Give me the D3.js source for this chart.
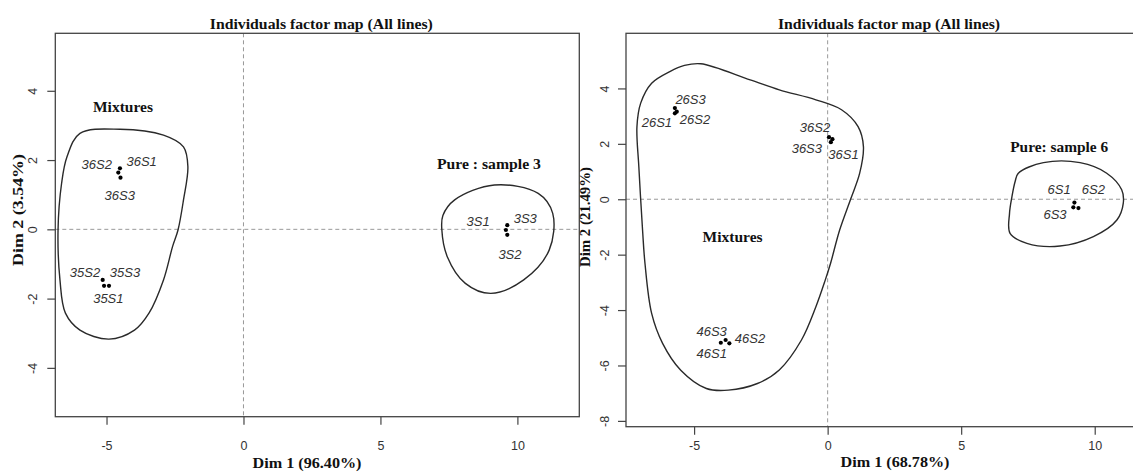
<!DOCTYPE html>
<html>
<head>
<meta charset="utf-8">
<script src="https://cdn.jsdelivr.net/npm/d3@7"></script>
<style>
  html, body { margin: 0; padding: 0; background: #fff; }
  svg { display: block; }
</style>
</head>
<body>
<script>
// ---------------- DATA ----------------
const chartTitle = "Individuals factor map (All lines)";

// Left panel
const leftXTitle = "Dim 1 (96.40%)";
const leftYTitle = "Dim 2 (3.54%)";
const leftXTicks = [-5, 0, 5, 10];
const leftYTicks = [-4, -2, 0, 2, 4];
const leftNames = ["36S1", "36S2", "36S3", "35S2", "35S1", "35S3", "3S3", "3S1", "3S2"];
const leftDim1 = [-4.51, -4.57, -4.49, -5.14, -5.09, -4.91, 9.63, 9.58, 9.63];
const leftDim2 = [1.76, 1.64, 1.49, -1.46, -1.63, -1.63, 0.12, -0.02, -0.16];
const leftGroups = ["Mixtures", "Pure : sample 3"];
const leftGroupX = [-4.40, 8.96];
const leftGroupY = [3.52, 1.88];
const leftMixHullX = [-6.44, -5.97, -4.51, -2.92, -2.19, -2.03, -2.19, -2.39, -2.59, -2.92, -3.45, -3.98, -4.91, -5.97, -6.50, -6.70, -6.77, -6.64];
const leftMixHullY = [2.10, 2.77, 2.89, 2.72, 2.38, 1.81, 0.85, -0.02, -0.50, -1.46, -2.42, -2.91, -3.17, -2.91, -2.42, -1.46, -0.02, 1.33];
const leftPureHullX = [7.71, 9.16, 10.76, 11.29, 11.16, 10.23, 9.03, 8.10, 7.44, 7.24, 7.28];
const leftPureHullY = [0.85, 1.28, 1.04, 0.46, -0.60, -1.46, -1.85, -1.56, -0.79, 0.00, 0.40];

// Right panel
const rightXTitle = "Dim 1 (68.78%)";
const rightYTitle = "Dim 2 (21.49%)";
const rightXTicks = [-5, 0, 5, 10];
const rightYTicks = [-8, -6, -4, -2, 0, 2, 4];
const rightNames = ["26S3", "26S2", "26S1", "36S2", "36S1", "36S3", "6S1", "6S3", "6S2", "46S1", "46S3", "46S2"];
const rightDim1 = [-5.72, -5.65, -5.72, 0.05, 0.18, 0.12, 9.24, 9.20, 9.39, -4.00, -3.82, -3.68];
const rightDim2 = [3.29, 3.16, 3.10, 2.24, 2.17, 2.06, -0.12, -0.29, -0.32, -5.18, -5.08, -5.20];
const rightGroups = ["Mixtures", "Pure: sample 6"];
const rightGroupX = [-3.56, 8.67];
const rightGroupY = [-1.36, 1.90];
const rightMixHullX = [-4.75, -2.90, -1.81, -0.44, 0.52, 1.14, 1.34, 1.20, 0.86, 0.45, 0.11, -0.09, -0.44, -0.98, -1.81, -2.63, -3.72, -4.54, -5.50, -6.18, -6.59, -6.84, -6.93, -7.07, -7.14, -7.00, -6.59, -5.91, -5.36];
const rightMixHullY = [4.89, 4.31, 3.95, 3.59, 3.23, 2.62, 1.90, 0.94, 0.00, -1.11, -2.31, -2.92, -3.88, -5.08, -6.16, -6.65, -6.89, -6.83, -6.17, -5.20, -4.12, -2.31, -1.11, 1.18, 2.62, 3.47, 4.19, 4.61, 4.83];
const rightPureHullX = [7.14, 8.08, 9.45, 10.45, 11.01, 11.07, 10.83, 9.95, 8.70, 7.46, 6.83, 6.81, 6.90, 7.02];
const rightPureHullY = [0.94, 1.32, 1.32, 0.94, 0.34, -0.14, -0.75, -1.35, -1.69, -1.59, -1.23, -0.51, 0.09, 0.64];

// ---------------- LAYOUT / STYLE (not data) ----------------
const labelOffsets = {
  left: {
    "36S1": [21.7, -6.6], "36S2": [-21.6, -8.3], "36S3": [-0.7, 17.3],
    "35S2": [-17.7, -7.7], "35S1": [4.3, 12.6], "35S3": [16, -13.4],
    "3S3": [18, -6.7], "3S1": [-27.7, -8.6], "3S2": [2.7, 20]
  },
  right: {
    "26S3": [15.7, -9], "26S2": [18.3, 7.6], "26S1": [-18, 9.4],
    "36S2": [-14, -10], "36S1": [11, 15.7], "36S3": [-24, 6],
    "6S1": [-15.3, -12.7], "6S3": [-18.3, 7], "6S2": [15, -19],
    "46S1": [-9, 10.6], "46S3": [-14, -8.3], "46S2": [20.7, -5]
  }
};

const W = 1133, H = 472;
const svg = d3.select("body").append("svg").attr("width", W).attr("height", H);

const serif = "'Liberation Serif', 'DejaVu Serif', serif";
const sans = "'Liberation Sans', Arial, sans-serif";
const fmt = d => String(d);

function drawPanel(cfg) {
  const x = d3.scaleLinear().domain(cfg.xDomain).range([cfg.x0, cfg.x1]);
  const y = d3.scaleLinear().domain(cfg.yDomain).range([cfg.y1, cfg.y0]);
  const g = svg.append("g");

  const clipId = "clip" + cfg.id;
  svg.append("defs").append("clipPath").attr("id", clipId)
    .append("rect").attr("x", cfg.x0).attr("y", cfg.y0)
    .attr("width", cfg.x1 - cfg.x0).attr("height", cfg.y1 - cfg.y0);

  const inner = g.append("g").attr("clip-path", `url(#${clipId})`);

  // dashed reference lines
  inner.append("line")
    .attr("x1", x(0)).attr("x2", x(0)).attr("y1", cfg.y0).attr("y2", cfg.y1)
    .attr("stroke", "#999").attr("stroke-width", 1).attr("stroke-dasharray", "4,3");
  inner.append("line")
    .attr("x1", cfg.x0).attr("x2", cfg.x1).attr("y1", y(0)).attr("y2", y(0))
    .attr("stroke", "#999").attr("stroke-width", 1).attr("stroke-dasharray", "4,3");

  // hulls
  const line = d3.line().x(d => x(d[0])).y(d => y(d[1])).curve(d3.curveCatmullRomClosed.alpha(0.5));
  cfg.hulls.forEach(h => {
    const pts = h.xs.map((v, i) => [v, h.ys[i]]);
    inner.append("path").attr("d", line(pts))
      .attr("fill", "none").attr("stroke", "#2a2a2a").attr("stroke-width", 1.4);
  });

  // points
  const pts = cfg.names.map((n, i) => ({ name: n, d1: cfg.dim1[i], d2: cfg.dim2[i] }));
  inner.selectAll("circle.pt").data(pts).enter().append("circle")
    .attr("class", "pt")
    .attr("cx", d => x(d.d1)).attr("cy", d => y(d.d2)).attr("r", 2.1)
    .attr("fill", "#000");

  inner.selectAll("text.lbl").data(pts).enter().append("text")
    .attr("class", "lbl")
    .attr("x", d => x(d.d1) + cfg.offsets[d.name][0])
    .attr("y", d => y(d.d2) + cfg.offsets[d.name][1])
    .attr("text-anchor", "middle").attr("dominant-baseline", "central")
    .attr("font-family", sans).attr("font-style", "italic")
    .attr("font-size", 13).attr("fill", "#333")
    .text(d => d.name);

  // group annotations
  cfg.groups.forEach((t, i) => {
    inner.append("text")
      .attr("x", x(cfg.groupX[i])).attr("y", y(cfg.groupY[i]))
      .attr("text-anchor", "middle").attr("dominant-baseline", "central")
      .attr("font-family", serif).attr("font-weight", "bold").attr("font-size", 14.5)
      .attr("fill", "#111")
      .attr("textLength", cfg.groupW[i]).attr("lengthAdjust", "spacingAndGlyphs")
      .text(t);
  });

  // box
  g.append("rect").attr("x", cfg.x0).attr("y", cfg.y0)
    .attr("width", cfg.x1 - cfg.x0).attr("height", cfg.y1 - cfg.y0)
    .attr("fill", "none").attr("stroke", "#444").attr("stroke-width", 1.3);

  // axes
  const xAxis = d3.axisBottom(x).tickValues(cfg.xTicks).tickSize(8).tickPadding(cfg.xPad).tickFormat(fmt);
  const gx = g.append("g").attr("transform", `translate(0,${cfg.y1})`).call(xAxis);
  gx.select(".domain").remove();
  gx.selectAll("line").attr("stroke", "#444").attr("stroke-width", 1.2);
  gx.selectAll("text").attr("font-family", sans).attr("font-size", 12.5).attr("fill", "#333");

  const yAxis = d3.axisLeft(y).tickValues(cfg.yTicks).tickSize(8).tickPadding(0).tickFormat(fmt);
  const gy = g.append("g").attr("transform", `translate(${cfg.x0},0)`).call(yAxis);
  gy.select(".domain").remove();
  gy.selectAll("line").attr("stroke", "#444").attr("stroke-width", 1.2);
  gy.selectAll("text")
    .attr("x", null).attr("dy", null)
    .attr("text-anchor", "middle")
    .attr("transform", `translate(${-cfg.yLabDist},0) rotate(-90)`)
    .attr("dominant-baseline", "central")
    .attr("font-family", sans).attr("font-size", 12.5).attr("fill", "#333");

  // titles
  svg.append("text")
    .attr("x", (cfg.x0 + cfg.x1) / 2 + cfg.titleShift).attr("y", 23.5)
    .attr("text-anchor", "middle").attr("dominant-baseline", "central")
    .attr("font-family", serif).attr("font-weight", "bold").attr("font-size", 15)
    .attr("fill", "#111")
    .attr("textLength", cfg.titleW).attr("lengthAdjust", "spacingAndGlyphs")
    .text(chartTitle);

  svg.append("text")
    .attr("x", cfg.xTitleX).attr("y", cfg.xTitleY)
    .attr("text-anchor", "middle").attr("dominant-baseline", "central")
    .attr("font-family", serif).attr("font-weight", "bold").attr("font-size", 14.5)
    .attr("fill", "#111")
    .attr("textLength", 109).attr("lengthAdjust", "spacingAndGlyphs")
    .text(cfg.xTitle);

  svg.append("text")
    .attr("transform", `translate(${cfg.yTitleX},${cfg.yTitleY}) rotate(-90)`)
    .attr("text-anchor", "middle").attr("dominant-baseline", "central")
    .attr("font-family", serif).attr("font-weight", "bold").attr("font-size", 14.5)
    .attr("fill", "#111")
    .attr("textLength", cfg.yTitleW).attr("lengthAdjust", "spacingAndGlyphs")
    .text(cfg.yTitle);
}

drawPanel({
  id: "L",
  x0: 55.3, x1: 579.3, y0: 33.3, y1: 416.7,
  xDomain: [-6.87, 12.26], yDomain: [-5.41, 5.66],
  xTicks: leftXTicks, yTicks: leftYTicks,
  names: leftNames, dim1: leftDim1, dim2: leftDim2,
  offsets: labelOffsets.left,
  groups: leftGroups, groupX: leftGroupX, groupY: leftGroupY, groupW: [60, 104],
  hulls: [{ xs: leftMixHullX, ys: leftMixHullY }, { xs: leftPureHullX, ys: leftPureHullY }],
  xPad: 16, yLabDist: 22.6,
  titleShift: 4, titleW: 223,
  xTitle: leftXTitle, xTitleX: 307, xTitleY: 463,
  yTitle: leftYTitle, yTitleX: 18, yTitleY: 210, yTitleW: 112
});

drawPanel({
  id: "R",
  x0: 626, x1: 1150, y0: 33.3, y1: 426.7,
  xDomain: [-7.55, 12.07], yDomain: [-8.21, 5.99],
  xTicks: rightXTicks, yTicks: rightYTicks,
  names: rightNames, dim1: rightDim1, dim2: rightDim2,
  offsets: labelOffsets.right,
  groups: rightGroups, groupX: rightGroupX, groupY: rightGroupY, groupW: [60, 98],
  hulls: [{ xs: rightMixHullX, ys: rightMixHullY }, { xs: rightPureHullX, ys: rightPureHullY }],
  xPad: 6, yLabDist: 21,
  titleShift: 1, titleW: 222,
  xTitle: rightXTitle, xTitleX: 895, xTitleY: 462,
  yTitle: rightYTitle, yTitleX: 585, yTitleY: 217, yTitleW: 100
});
</script>
</body>
</html>
